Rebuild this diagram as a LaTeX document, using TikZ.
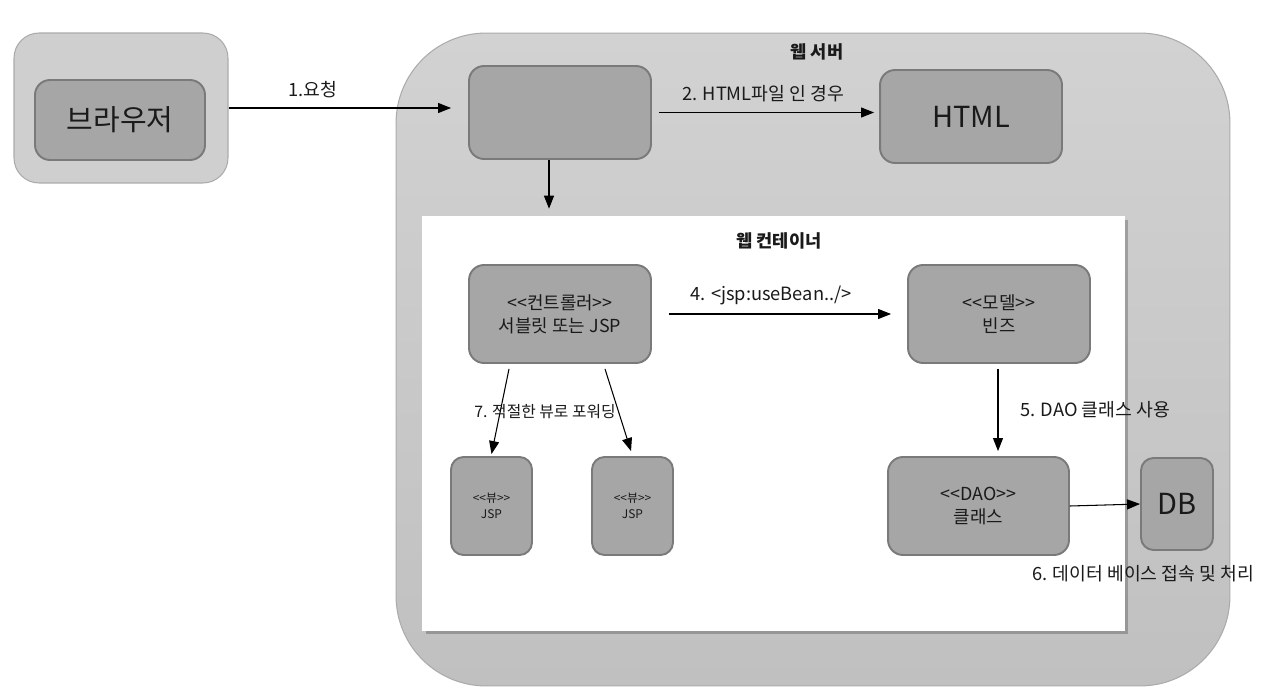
\documentclass[tikz,border=0pt]{standalone}
\usepackage{fontspec}
\setmainfont{Noto Sans CJK KR}[Ligatures=TeXOff]
\usetikzlibrary{arrows.meta,calc,shadows}
\definecolor{boxfill}{HTML}{A6A6A6}
\definecolor{boxline}{HTML}{7A7A7A}
\definecolor{outerfill}{HTML}{CFCFCF}
\definecolor{outerline}{HTML}{ABABAB}
\definecolor{srvtop}{HTML}{D2D2D2}
\definecolor{srvbot}{HTML}{C0C0C0}
\definecolor{txt}{HTML}{1A1A1A}
\tikzset{
  inbox/.style={draw=boxline, fill=boxfill, line width=1.1pt, rounded corners=0.3cm, text=txt, align=center, inner sep=0pt},
  arr/.style={-{Triangle[length=0.26cm,width=0.2cm]}, line width=0.6pt, draw=black},
  lbl/.style={text=txt, font=\fontsize{10.4}{12}\selectfont, inner sep=0pt},
  ttl/.style={text=txt, font=\bfseries\fontsize{10}{12}\selectfont, inner sep=0pt},
  big/.style={font=\fontsize{16.5}{19}\selectfont},
  mid/.style={font=\fontsize{10.2}{13}\selectfont},
  sml/.style={font=\fontsize{6.8}{9.5}\selectfont}
}
\begin{document}
\begin{tikzpicture}[x=0.02cm,y=-0.02cm]
\useasboundingbox (0,0) rectangle (1266,699);
% browser
\node[draw=outerline, fill=outerfill, line width=0.6pt, rounded corners=0.5cm, minimum width=4.28cm, minimum height=3.0cm] (bouter) at (121,108) {};
\node[inbox, big, minimum width=3.4cm, minimum height=1.6cm] (browser) at (120,120) {브라우저};
% web server
\node[draw=outerline, line width=0.6pt, top color=srvtop, bottom color=srvbot, rounded corners=1.8cm, minimum width=16.68cm, minimum height=13.06cm] (server) at (813,359.5) {};
\node[ttl] (servertitle) at (817,52) {웹 서버};
\node[inbox, minimum width=3.64cm, minimum height=1.86cm] (front) at (560,112.5) {};
\node[inbox, big, minimum width=3.64cm, minimum height=1.86cm] (html) at (971,116.5) {HTML};
% web container
\node[fill=white, minimum width=14.06cm, minimum height=8.3cm, inner sep=0pt,
  drop shadow={shadow xshift=0.07cm, shadow yshift=-0.07cm, fill=black, opacity=0.22}] (container) at (773.5,423.5) {};
\node[ttl] (containertitle) at (779,241) {웹 컨테이너};
\node[inbox, mid, minimum width=3.64cm, minimum height=1.96cm] (ctrl) at (560,314) {<<컨트롤러>>\\서블릿 또는 JSP};
\node[inbox, mid, minimum width=3.64cm, minimum height=1.96cm] (model) at (999,314) {<<모델>>\\빈즈};
\node[inbox, mid, minimum width=3.62cm, minimum height=1.96cm] (dao) at (978.5,506) {<<DAO>>\\클래스};
\node[inbox, big, minimum width=1.44cm, minimum height=1.84cm, rounded corners=0.25cm] (db) at (1177,504) {DB};
\node[inbox, sml, minimum width=1.62cm, minimum height=1.96cm, rounded corners=0.25cm] (view1) at (491.5,506) {<<뷰>>\\JSP};
\node[inbox, sml, minimum width=1.62cm, minimum height=1.96cm, rounded corners=0.25cm] (view2) at (632.5,506) {<<뷰>>\\JSP};
% connectors
\draw[arr, shorten >=0.34cm] (bouter.east) -- (bouter.east -| front.west);
\draw[arr, shorten <=0.14cm, shorten >=0.1cm] (front.east) -- (front.east -| html.west);
\coordinate (downstart) at ($(front.south)+(-11,0)$);
\draw[arr, shorten >=0.14cm] (downstart) -- (downstart |- container.north);
\draw[arr, shorten <=0.34cm, shorten >=0.32cm] (ctrl.east) -- (ctrl.east -| model.west);
\coordinate (m5) at ($(model.south)+(-1,0)$);
\draw[arr, shorten <=0.1cm, shorten >=0.1cm] (m5) -- (m5 |- dao.north);
\draw[arr] (dao.east) -- (db.west);
\draw[arr] ($(ctrl.south)+(-51,5)$) -- ($(view1.north)+(0,-2)$);
\draw[arr] ($(ctrl.south)+(45,5)$) -- ($(view2.north)+(-1.5,-5)$);
% labels
\node[lbl] (l1) at (313,90) {1.요청};
\node[lbl] (l2) at (763,94) {2. HTML파일 인 경우};
\node[lbl] (l4) at (771,295) {4. <jsp:useBean../>};
\node[lbl] (l5) at (1095,410) {5. DAO 클래스 사용};
\node[lbl] (l6) at (1143,574) {6. 데이터 베이스 접속 및 처리};
\node[lbl, font=\fontsize{9}{11}\selectfont] (l7) at (545,412) {7. 적절한 뷰로 포워딩};
\end{tikzpicture}
\end{document}
